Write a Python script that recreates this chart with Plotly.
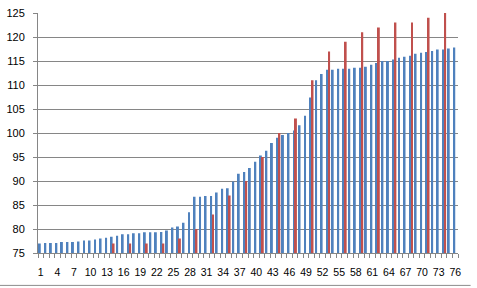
import plotly.graph_objects as go

categories = list(range(1, 77))

blue_values = [
    77.0, 77.1, 77.1, 77.1, 77.3, 77.3, 77.3, 77.4, 77.6, 77.6,
    77.8, 78.0, 78.2, 78.4, 78.6, 78.9, 78.9, 79.1, 79.1, 79.3,
    79.3, 79.3, 79.4, 79.7, 80.3, 80.5, 81.3, 83.5, 86.7, 86.7,
    86.9, 86.9, 87.6, 88.4, 88.5, 89.9, 91.5, 91.9, 92.7, 94.0,
    95.3, 96.3, 97.9, 99.0, 99.6, 100.0, 100.5, 101.6, 103.6, 107.4,
    111.0, 112.3, 113.2, 113.2, 113.4, 113.4, 113.4, 113.6, 113.6, 113.8,
    114.2, 114.6, 115.0, 115.0, 115.3, 115.7, 115.9, 116.1, 116.5, 116.7,
    116.9, 117.1, 117.4, 117.4, 117.6, 117.8,
]

red_categories = [14, 17, 20, 23, 26, 29, 32, 35, 38, 41, 44, 47, 50, 53, 56, 59, 62, 65, 68, 71, 74]
red_points = [77, 77, 77, 77, 78, 80, 83, 87, 90, 95, 100, 103, 111, 117, 119, 121, 122, 123, 123, 124, 125]

red_values = [None] * len(categories)
for c, v in zip(red_categories, red_points):
    red_values[c - 1] = v

x_tick_labels = [str(v) for v in range(1, 77, 3)]
x_tick_vals = list(range(1, 77, 3))
y_tick_vals = list(range(75, 126, 5))

grid = "#868686"

fig = go.Figure()
fig.add_trace(go.Bar(x=categories, y=blue_values, marker=dict(color="#4F81BD", line=dict(width=0)), name="Series1"))
fig.add_trace(go.Bar(x=categories, y=red_values, marker=dict(color="#C0504D", line=dict(width=0)), name="Series2"))

fig.update_layout(
    width=477, height=288,
    margin=dict(l=38, r=19, t=13, b=35, autoexpand=False),
    paper_bgcolor="white", plot_bgcolor="white",
    barmode="group", bargap=0.3, bargroupgap=0,
    showlegend=False,
    font=dict(family="Liberation Sans", size=11, color="#000000"),
)
fig.update_xaxes(
    range=[0.5, 76.5], automargin=False,
    tickmode="array", tickvals=x_tick_vals, ticktext=x_tick_labels,
    ticks="outside", ticklen=4, tickcolor="rgba(0,0,0,0)",
    ticklabelstandoff=5,
    tickfont=dict(size=10.5),
    showgrid=False, zeroline=False,
    showline=True, linecolor=grid, linewidth=1,
    minor=dict(tickmode="array", tickvals=[i + 0.5 for i in range(0, 77)], ticks="outside", ticklen=4, tickcolor=grid, tickwidth=1, showgrid=False),
)
fig.update_yaxes(
    range=[75, 125], automargin=False,
    tickmode="array", tickvals=y_tick_vals,
    ticks="outside", ticklen=4, tickcolor=grid,
    ticklabelstandoff=6,
    showgrid=True, gridcolor=grid, gridwidth=1,
    zeroline=False,
    showline=True, linecolor=grid, linewidth=1,
)
fig.add_shape(type="line", xref="paper", yref="paper", x0=-0.092, x1=1.03, y0=-0.135, y1=-0.135,
              line=dict(color="#8c8c8c", width=1))

fig.write_html("out.html")
